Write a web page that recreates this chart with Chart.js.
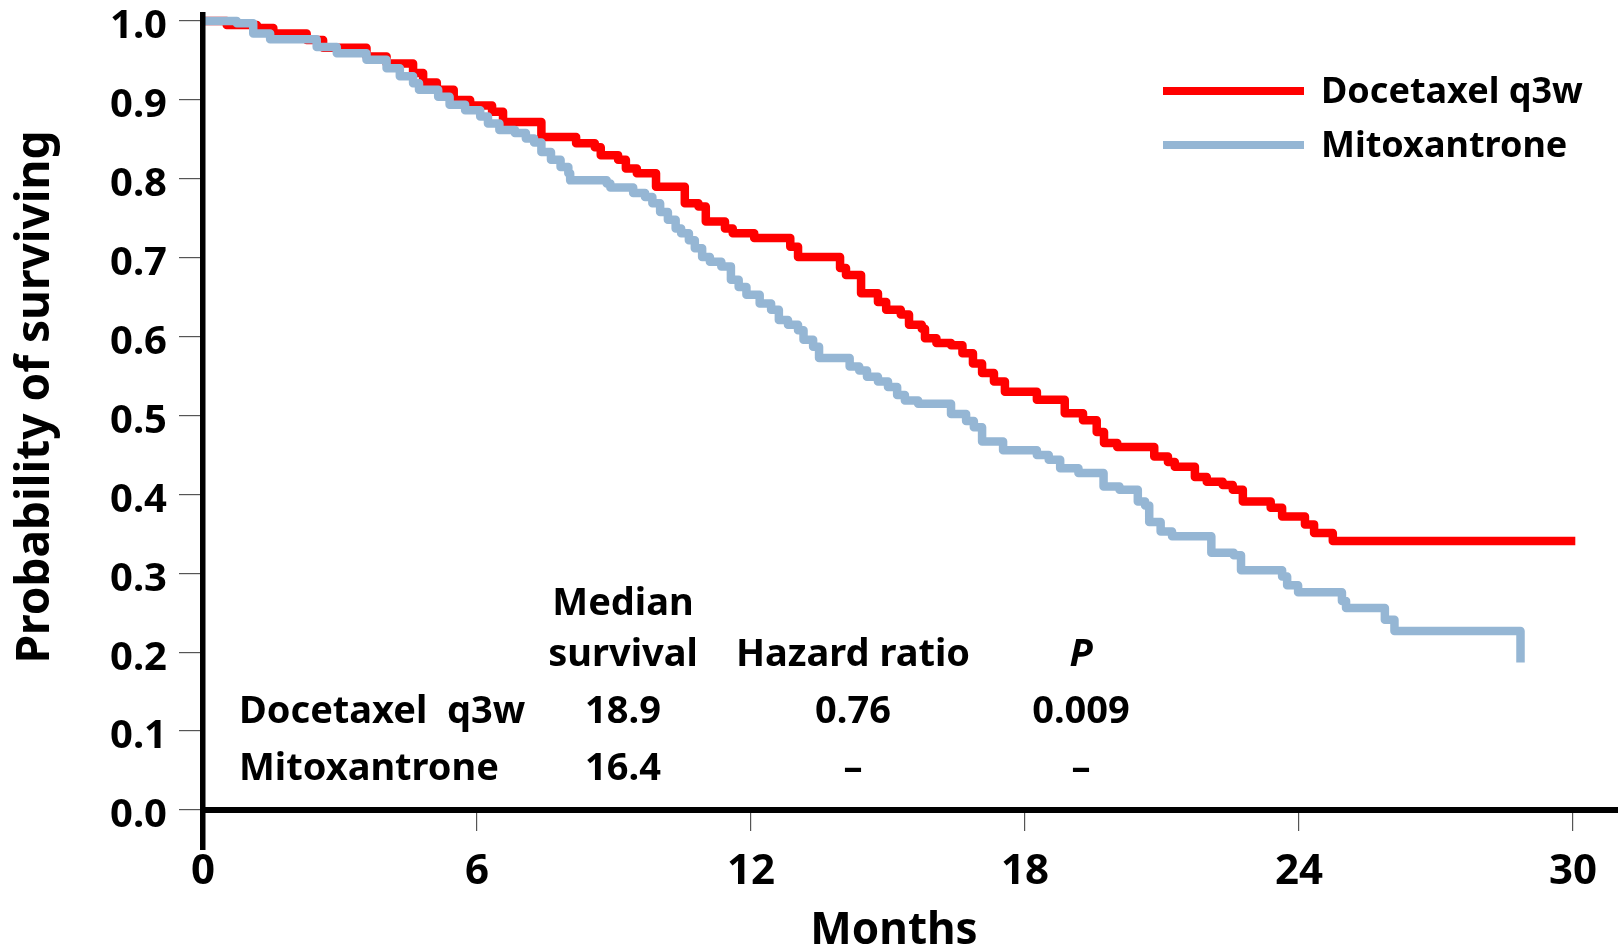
<!DOCTYPE html>
<html>
<head>
<meta charset="utf-8">
<style>
html, body { margin: 0; padding: 0; background: #fff; }
</style>
<script src="https://cdn.jsdelivr.net/npm/chart.js@4.4.1/dist/chart.umd.min.js"></script>
</head>
<body>
<canvas id="kmChart" width="1618" height="947"></canvas>
<script>
// Kaplan-Meier steps: month of each drop and survival after it
const docetaxelMonths = [0, 0.52, 1.18, 1.54, 2.27, 2.63, 3.58, 4.02, 4.6, 4.82, 5.12, 5.49, 5.85, 6.33, 6.57, 7.41, 8.17, 8.58, 8.71, 9.09, 9.26, 9.5, 9.92, 10.55, 10.85, 11.01, 11.43, 11.6, 12.07, 12.86, 13.03, 13.95, 14.08, 14.41, 14.78, 14.96, 15.28, 15.46, 15.74, 15.81, 16.06, 16.38, 16.63, 16.86, 17.06, 17.32, 17.56, 18.26, 18.87, 19.27, 19.57, 19.73, 20.02, 20.83, 21.13, 21.28, 21.72, 21.98, 22.33, 22.55, 22.77, 23.38, 23.63, 24.13, 24.33, 24.74, 30.05];
const docetaxelSurvival = [1.0, 0.995, 0.991, 0.984, 0.976, 0.966, 0.955, 0.946, 0.934, 0.922, 0.913, 0.900, 0.893, 0.885, 0.872, 0.853, 0.845, 0.840, 0.830, 0.824, 0.813, 0.807, 0.790, 0.769, 0.765, 0.746, 0.737, 0.731, 0.725, 0.714, 0.701, 0.687, 0.678, 0.655, 0.644, 0.634, 0.628, 0.615, 0.610, 0.598, 0.592, 0.589, 0.579, 0.566, 0.554, 0.543, 0.530, 0.520, 0.503, 0.494, 0.479, 0.465, 0.460, 0.448, 0.441, 0.435, 0.422, 0.416, 0.412, 0.406, 0.391, 0.383, 0.372, 0.362, 0.351, 0.341, 0.341];

const mitoxantroneMonths = [0, 0.74, 1.1, 1.47, 2.49, 2.93, 3.58, 4.02, 4.31, 4.6, 4.73, 5.15, 5.4, 5.74, 6.07, 6.24, 6.49, 6.83, 7.07, 7.25, 7.41, 7.62, 7.83, 8.0, 8.04, 8.84, 8.92, 9.42, 9.68, 9.84, 10.01, 10.18, 10.35, 10.47, 10.64, 10.77, 10.93, 11.1, 11.35, 11.56, 11.73, 11.9, 12.19, 12.44, 12.61, 12.81, 13.03, 13.15, 13.36, 13.49, 14.16, 14.37, 14.54, 14.78, 15.0, 15.2, 15.37, 15.66, 16.38, 16.71, 16.88, 17.06, 17.52, 18.26, 18.52, 18.77, 19.17, 19.72, 20.07, 20.47, 20.63, 20.72, 20.97, 21.22, 22.08, 22.57, 22.73, 23.63, 23.74, 23.98, 24.94, 25.03, 25.88, 26.09, 28.84, 28.85];
const mitoxantroneSurvival = [1.0, 0.997, 0.984, 0.977, 0.967, 0.959, 0.951, 0.940, 0.930, 0.921, 0.913, 0.904, 0.894, 0.887, 0.879, 0.870, 0.862, 0.858, 0.851, 0.846, 0.834, 0.824, 0.815, 0.807, 0.798, 0.794, 0.789, 0.782, 0.777, 0.769, 0.758, 0.748, 0.737, 0.731, 0.722, 0.712, 0.701, 0.695, 0.689, 0.672, 0.663, 0.653, 0.642, 0.634, 0.621, 0.615, 0.608, 0.596, 0.587, 0.573, 0.562, 0.557, 0.549, 0.543, 0.536, 0.526, 0.519, 0.515, 0.502, 0.493, 0.485, 0.467, 0.456, 0.450, 0.444, 0.433, 0.427, 0.410, 0.406, 0.391, 0.386, 0.365, 0.353, 0.347, 0.326, 0.323, 0.304, 0.296, 0.285, 0.276, 0.265, 0.256, 0.241, 0.227, 0.227, 0.187];

const xTickValues = [0, 6, 12, 18, 24, 30];
const yTickValues = [0, 0.1, 0.2, 0.3, 0.4, 0.5, 0.6, 0.7, 0.8, 0.9, 1.0];

const tableHeaderTop = ['Median', '', ''];
const tableHeaders = ['survival', 'Hazard ratio', 'P'];
const tableRowLabels = ['Docetaxel  q3w', 'Mitoxantrone'];
const medianSurvival = ['18.9', '16.4'];
const hazardRatio = ['0.76', '–'];
const pValue = ['0.009', '–'];

const FONT = "'Noto Sans', 'DejaVu Sans', sans-serif";
const RED = '#ff0000';
const BLUE = '#95b6d4';

function toPoints(months, values) {
    return months.map(function(m, i) {
        return { x: m, y: values[i] };
    });
}

const kmDecor = {
    id: 'kmDecor',
    afterDatasetsDraw: function(chart) {
        const ctx = chart.ctx;
        const ys = chart.scales.y;
        const area = chart.chartArea;
        const y0 = ys.getPixelForValue(0);

        ctx.save();

        // axis lines, y axis runs a little below the x axis
        ctx.fillStyle = '#000';
        ctx.fillRect(area.left - 3, area.top, 5.5, y0 + 40 - area.top);
        ctx.fillRect(area.left - 3, y0 - 3, area.right - area.left + 3, 6);

        // legend
        const legendItems = [
            { label: chart.data.datasets[1].label, color: chart.data.datasets[1].borderColor, y: 91 },
            { label: chart.data.datasets[0].label, color: chart.data.datasets[0].borderColor, y: 145 }
        ];
        legendItems.forEach(function(item) {
            ctx.fillStyle = item.color;
            ctx.fillRect(1163, item.y - 4, 141, 8);
            ctx.fillStyle = '#000';
            ctx.font = 'bold 36px ' + FONT;
            ctx.textAlign = 'left';
            ctx.textBaseline = 'middle';
            ctx.fillText(item.label, 1321, item.y + 2);
        });

        // axis titles
        ctx.fillStyle = '#000';
        ctx.textAlign = 'center';
        ctx.textBaseline = 'middle';
        ctx.font = 'bold 44px ' + FONT;
        ctx.fillText('Months', 894, 931);

        ctx.font = 'bold 46px ' + FONT;
        ctx.save();
        ctx.translate(36, 397);
        ctx.rotate(-Math.PI / 2);
        ctx.fillText('Probability of surviving', 0, 0);
        ctx.restore();

        // statistics table
        const colX = [623, 853, 1081];
        ctx.font = 'bold 38px ' + FONT;
        ctx.textAlign = 'center';
        tableHeaderTop.forEach(function(t, i) {
            if (t) ctx.fillText(t, colX[i], 604);
        });
        tableHeaders.forEach(function(t, i) {
            ctx.font = (t === 'P' ? 'italic bold 38px ' : 'bold 38px ') + FONT;
            ctx.fillText(t, colX[i], 655);
        });
        ctx.font = 'bold 38px ' + FONT;
        tableRowLabels.forEach(function(t, r) {
            const rowY = 712 + r * 57;
            ctx.textAlign = 'left';
            ctx.fillText(t, 239, rowY);
            ctx.textAlign = 'center';
            ctx.fillText(medianSurvival[r], colX[0], rowY);
            ctx.fillText(hazardRatio[r], colX[1], rowY);
            ctx.fillText(pValue[r], colX[2], rowY);
        });

        ctx.restore();
    }
};

new Chart(document.getElementById('kmChart'), {
    type: 'line',
    data: {
        datasets: [{
            label: 'Mitoxantrone',
            data: toPoints(mitoxantroneMonths, mitoxantroneSurvival),
            borderColor: BLUE,
            borderWidth: 8.5,
            borderJoinStyle: 'round',
            stepped: true,
            pointRadius: 0,
            fill: false,
            order: 0
        }, {
            label: 'Docetaxel q3w',
            data: toPoints(docetaxelMonths, docetaxelSurvival),
            borderColor: RED,
            borderWidth: 8.5,
            borderJoinStyle: 'round',
            stepped: true,
            pointRadius: 0,
            fill: false,
            order: 1
        }]
    },
    options: {
        responsive: false,
        animation: false,
        layout: {
            padding: { top: 12, right: 0, bottom: 0, left: 0 }
        },
        plugins: {
            legend: { display: false },
            tooltip: { enabled: false }
        },
        scales: {
            x: {
                type: 'linear',
                min: 0,
                max: 30.985,
                afterFit: function(scale) {
                    scale.height = 137;
                    scale.paddingLeft = 0;
                    scale.paddingRight = 0;
                },
                afterBuildTicks: function(scale) {
                    scale.ticks = xTickValues.map(function(v) { return { value: v }; });
                },
                border: { display: false },
                grid: {
                    drawOnChartArea: false,
                    drawTicks: true,
                    tickLength: 21,
                    color: '#555',
                    lineWidth: 1.2
                },
                ticks: {
                    autoSkip: false,
                    maxRotation: 0,
                    padding: 20,
                    color: '#000',
                    font: { family: FONT, size: 42, weight: 'bold', lineHeight: 1 }
                }
            },
            y: {
                min: 0,
                max: 1.0114,
                afterFit: function(scale) {
                    scale.width = 203;
                    scale.paddingTop = 0;
                    scale.paddingBottom = 0;
                },
                afterBuildTicks: function(scale) {
                    scale.ticks = yTickValues.map(function(v) { return { value: v }; });
                },
                border: { display: false },
                grid: {
                    drawOnChartArea: false,
                    drawTicks: true,
                    tickLength: 24,
                    color: '#555',
                    lineWidth: 1.2
                },
                ticks: {
                    padding: 12,
                    labelOffset: 6,
                    color: '#000',
                    font: { family: FONT, size: 40, weight: 'bold', lineHeight: 1 },
                    callback: function(value) { return Number(value).toFixed(1); }
                }
            }
        }
    },
    plugins: [kmDecor]
});
</script>
</body>
</html>
